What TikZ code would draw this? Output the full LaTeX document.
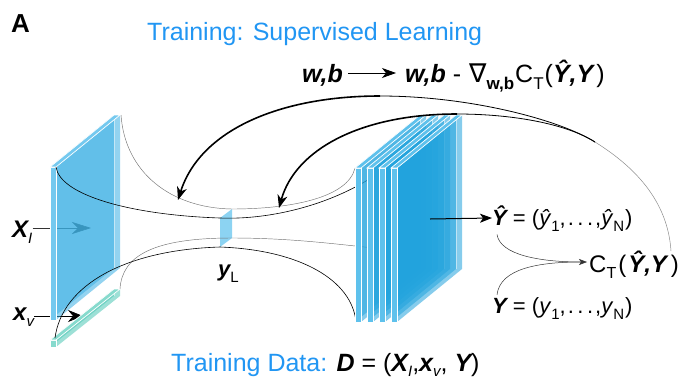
\documentclass[tikz,border=0pt]{standalone}
\usepackage{fontspec}
\setmainfont{Liberation Sans}
\newfontfamily\djv{DejaVu Sans}
\usetikzlibrary{arrows.meta}
\definecolor{titleblue}{HTML}{2196F3}
\definecolor{lface}{HTML}{3AAFE3}
\definecolor{lstrip}{HTML}{74C9EF}
\definecolor{rface}{HTML}{22A3DD}
\definecolor{rstrip}{HTML}{5EC1EC}
\definecolor{yface}{HTML}{8CD3F2}
\definecolor{gface}{HTML}{4CC7B5}
\definecolor{gstrip}{HTML}{86DACD}
\newcommand{\fs}[1]{\fontsize{#1}{#1}\selectfont}
\newcommand{\bi}[1]{{\bfseries\itshape #1}}
\newcommand{\lsub}[2][14]{\raisebox{-0.28em}{\fontsize{#1}{#1}\selectfont #2}}
\newcommand{\dotsx}{\kern2pt.\kern3.5pt.\kern3.5pt.\kern2pt}
\newcommand{\slab}[8]{%
  \coordinate (s0) at (#1,#2);
  \coordinate (s1) at (#1+#3,#2);
  \fill[#7,fill opacity=0.55] (s0) -- ++(#5,#6) -- ++(0,#4) -- ([shift={(0,#4)}]s0) -- cycle;
  \fill[#7,fill opacity=0.55] (s1) -- ++(#5,#6) -- ++(0,#4) -- ([shift={(0,#4)}]s1) -- cycle;
  \draw[white,opacity=0.5,line width=0.5pt] ([shift={(#5,#6)}]s0) -- ++(0,#4);
  \filldraw[fill=#8,draw=white,line width=0.7pt] (s0) rectangle ([shift={(#3,#4)}]s0);
  \filldraw[fill=#8,draw=white,line width=0.7pt] (s0) -- (s1) -- ++(#5,#6) -- ([shift={(#5,#6)}]s0) -- cycle;
}
\tikzset{
  txt/.style={anchor=base west,inner sep=0pt},
  funnelk/.style={black,line width=0.6pt},
  funnelg/.style={black!55,line width=0.45pt},
  bigarrow/.style={black,line width=1.6pt,-{Stealth[length=13pt,width=10pt,inset=4pt]}},
}
\begin{document}
\begin{tikzpicture}[x=1pt,y=-1pt]
\useasboundingbox (0,0) rectangle (683,381);

% labels on the left and input arrows (under the panels)
\node[txt,font=\fs{24}] (XI) at (12,237) {\bi{X}\lsub[15]{\itshape I}};
\node[txt,font=\fs{24}] (xv) at (13,320) {\bi{x}\lsub[15]{\itshape v}};
\coordinate (xiend) at (91,228);
\coordinate (xvend) at (83,316);
\draw[black!80,line width=0.6pt,-{Stealth[length=19pt,width=12pt,inset=6pt]}] ([yshift=9pt]XI.base east) -- (xiend);
\draw[black,line width=0.7pt,-{Stealth[length=15pt,width=12pt,inset=5pt]}] ([yshift=4pt]xv.base east) -- (xvend);

% left panel and green bar
\slab{50}{167}{6}{153}{64}{-52}{lface}{lstrip}
\slab{50}{340}{6}{7}{64}{-51}{gface}{gstrip}

% yL panel
\fill[yface] (220,218) -- (232,209) -- (232,238) -- (220,247) -- cycle;

% funnel corners
\coordinate (La) at (56,167);
\coordinate (Lb) at (121,115);
\coordinate (Gc) at (120,289);
\coordinate (Gd) at (55,338);
\coordinate (Ya) at (220,218);
\coordinate (Yb) at (232,209);
\coordinate (Yc) at (232,238);
\coordinate (Yd) at (220,247);
\coordinate (Ra) at (374,176);
\coordinate (Rb) at (355,168);
\coordinate (Rc) at (374,248);
\coordinate (Rd) at (356,322);

\draw[funnelk] (La) .. controls (60,195) and (130,215) .. (Ya) .. controls (270,220) and (330,205) .. (Ra);
\draw[funnelg] (Lb) .. controls (125,172) and (170,208) .. (Yb) .. controls (290,209) and (348,198) .. (Rb);
\draw[funnelg] (Gc) .. controls (122,255) and (155,238) .. (Yc) .. controls (290,238) and (335,244) .. (Rc);
\draw[funnelk] (Gd) .. controls (62,285) and (125,250) .. (Yd) .. controls (300,250) and (352,280) .. (Rd);

% right stack
\slab{355}{168}{6}{154}{65}{-53}{rface}{rstrip}
\slab{367}{168}{6}{154}{65}{-53}{rface}{rstrip}
\slab{379}{168}{6}{154}{65}{-53}{rface}{rstrip}
\slab{391}{168}{6}{154}{65}{-53}{rface}{rstrip}

% texts
\node[txt,font=\fs{26}\bfseries] (A) at (11,32) {A};
\node[txt,font=\fs{25},text=titleblue] (title) at (147,40) {Training: Supervised Learning};
\node[txt,font=\fs{25}] (wb1) at (302,82) {\bi{w,b}};
\node[txt,font=\fs{25}] (wb2) at (405,82) {\bi{w,b} - \kern1pt{\djv\fs{26}∇}\lsub[17]{\bfseries w,b}\kern1pt C\lsub[17]{T}\kern1pt(\bi{Ŷ,Y}\kern3pt)};
\node[txt,font=\fs{22}] (yL) at (218,276) {\bi{y}\lsub[15]{L}};
\node[txt,font=\fs{22}] (yhat) at (492,225) {\bi{Ŷ} = (\textit{ŷ}\lsub[15]{1},\dotsx,\textit{ŷ}\lsub[15]{N}\kern1pt)};
\node[txt,font=\fs{24}] (ct) at (589,272) {C\lsub[16]{T}\kern2pt(\kern2pt\bi{Ŷ,Y}\kern4pt)};
\node[txt,font=\fs{22}] (ytrue) at (492,313) {\bi{Y} = (\textit{y}\lsub[15]{1},\dotsx,\textit{y}\lsub[15]{N}\kern1pt)};
\node[txt,font=\fs{25}] (data) at (171,371) {\textcolor{titleblue}{Training Data:} \bi{D} = (\bi{X}\raisebox{-0.2em}{\fs{15}\itshape I},\bi{x}\raisebox{-0.2em}{\fs{15}\itshape v}, \bi{Y})};

% update arrow
\draw[black,line width=0.8pt,-{Stealth[length=14pt,width=10pt,inset=4pt]},shorten <=5pt,shorten >=9pt] ([yshift=9pt]wb1.base east) -- ([yshift=9pt]wb2.base west);

% stack output arrow
\coordinate (stackout) at (430,219);
\draw[black,line width=1pt,-{Stealth[length=12pt,width=9pt,inset=3pt]}] (stackout) -- ([yshift=7pt]yhat.base west);

% cost connectors
\draw[black!80,line width=0.5pt,-{Stealth[length=8pt,width=6pt,inset=2pt]}] ([xshift=5pt,yshift=-3pt]yhat.south west) .. controls (500,255) and (540,262) .. ([yshift=10pt,xshift=-2pt]ct.base west);
\draw[black!80,line width=0.5pt] ([xshift=5pt,yshift=2pt]ytrue.north west) .. controls (500,268) and (540,262) .. ([yshift=10pt,xshift=-8pt]ct.base west);

% backprop arcs
\coordinate (arcstart) at (671,251);
\coordinate (J) at (595,142);
\coordinate (otop) at (380,96);
\coordinate (itop) at (457,114);
\coordinate (otip) at (178,200);
\coordinate (itip) at (279,208);
\draw[black!45,line width=0.5pt] (arcstart) .. controls (668,205) and (640,170) .. (J);
\draw[black,line width=0.8pt] (J) .. controls (560,120) and (470,96) .. (otop);
\draw[bigarrow] (otop) .. controls (280,96) and (200,130) .. (otip);
\draw[black,line width=0.8pt] (J) .. controls (565,123) and (510,114) .. (itop);
\draw[bigarrow] (itop) .. controls (360,114) and (295,150) .. (itip);
\end{tikzpicture}
\end{document}
